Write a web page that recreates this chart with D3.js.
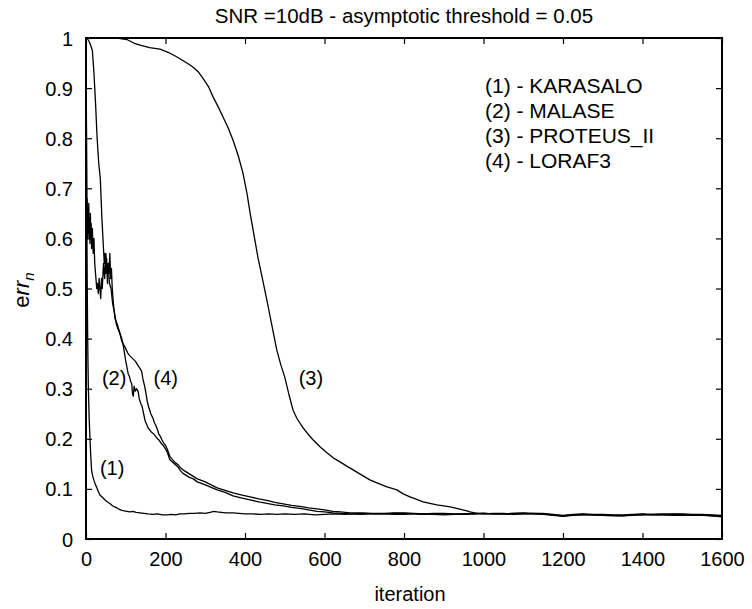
<!DOCTYPE html>
<html>
<head>
<meta charset="utf-8">
<script src="https://cdn.jsdelivr.net/npm/d3@7/dist/d3.min.js"></script>
<style>
  html, body { margin: 0; padding: 0; background: #fff; }
  svg { display: block; }
  text { font-family: "Liberation Sans", Arial, sans-serif; fill: #000; }
</style>
</head>
<body>
<svg id="chart" width="752" height="609"></svg>
<script>
// ---------- data ----------
const chartTitle = "SNR =10dB - asymptotic threshold = 0.05";
const xLabel = "iteration";
const xTicks = [0, 200, 400, 600, 800, 1000, 1200, 1400, 1600];
const yTicks = [0, 0.1, 0.2, 0.3, 0.4, 0.5, 0.6, 0.7, 0.8, 0.9, 1];
const legendItems = ["(1) - KARASALO", "(2) - MALASE", "(3) - PROTEUS_II", "(4) - LORAF3"];

// (1) KARASALO  [iteration, err]
const karasalo = [[0,1],[1,0.85],[2,0.66],[3,0.52],[4,0.42],[5,0.35],[6,0.3],[8,0.24],[10,0.2],[12,0.165],[14,0.138],[17,0.125],[20,0.117],[24,0.108],[27,0.103],[31,0.095],[35,0.088],[39,0.085],[43,0.082],[48,0.078],[54,0.074],[60,0.071],[66,0.067],[72,0.064],[78,0.062],[84,0.059],[90,0.057],[96,0.056],[103,0.055],[110,0.054],[118,0.055],[126,0.053],[136,0.052],[146,0.051],[156,0.05],[169,0.049],[180,0.05],[192,0.048],[204,0.048],[215,0.049],[225,0.048],[236,0.05],[248,0.05],[260,0.051],[272,0.051],[287,0.052],[300,0.051],[312,0.053],[322,0.055],[330,0.054],[340,0.053],[352,0.052],[370,0.052],[385,0.051],[400,0.05],[420,0.05],[440,0.049],[460,0.05],[480,0.049],[500,0.05],[525,0.049],[550,0.05],[575,0.048],[600,0.049],[625,0.05],[650,0.049],[675,0.05],[700,0.051],[725,0.05],[750,0.05],[775,0.049],[800,0.049],[825,0.05],[850,0.05],[875,0.049],[900,0.048],[925,0.049],[950,0.05],[975,0.05],[1000,0.051],[1025,0.05],[1050,0.05],[1075,0.051],[1100,0.052],[1125,0.051],[1150,0.05],[1175,0.048],[1200,0.046],[1225,0.048],[1250,0.049],[1275,0.048],[1300,0.048],[1325,0.047],[1350,0.047],[1375,0.048],[1400,0.049],[1425,0.048],[1450,0.048],[1475,0.047],[1500,0.047],[1525,0.048],[1550,0.048],[1575,0.047],[1600,0.046]];

// (2) MALASE
const malase = [[0,1],[1,0.82],[2,0.64],[3,0.68],[4,0.6],[5,0.66],[6,0.61],[7,0.67],[8,0.6],[9,0.64],[10,0.59],[11,0.65],[12,0.6],[13,0.63],[14,0.58],[16,0.62],[18,0.57],[20,0.6],[22,0.55],[25,0.52],[27,0.5],[29,0.51],[31,0.49],[33,0.52],[35,0.5],[37,0.48],[39,0.52],[41,0.5],[44,0.55],[47,0.52],[50,0.57],[53,0.53],[56,0.55],[59,0.51],[63,0.5],[67,0.47],[72,0.45],[76,0.43],[80,0.42],[85,0.41],[90,0.395],[93,0.39],[97,0.37],[100,0.355],[103,0.343],[106,0.33],[109,0.325],[112,0.315],[115,0.31],[117,0.29],[119,0.285],[121,0.305],[124,0.295],[127,0.3],[131,0.295],[134,0.28],[138,0.27],[141,0.265],[145,0.25],[149,0.235],[152,0.23],[156,0.222],[160,0.218],[165,0.213],[170,0.21],[175,0.205],[180,0.2],[185,0.196],[190,0.19],[195,0.186],[200,0.18],[205,0.172],[211,0.158],[218,0.153],[225,0.148],[232,0.143],[238,0.136],[244,0.131],[252,0.127],[260,0.123],[270,0.12],[280,0.114],[287,0.112],[300,0.108],[315,0.103],[330,0.098],[350,0.093],[370,0.086],[390,0.082],[413,0.078],[435,0.074],[455,0.071],[475,0.068],[496,0.066],[517,0.063],[538,0.061],[560,0.058],[581,0.055],[600,0.054],[621,0.052],[640,0.051],[664,0.05],[690,0.049],[720,0.05],[750,0.05],[775,0.051],[800,0.051],[825,0.05],[850,0.049],[875,0.05],[900,0.05],[925,0.049],[950,0.049],[975,0.05],[1000,0.051],[1025,0.05],[1050,0.05],[1075,0.051],[1100,0.051],[1125,0.05],[1150,0.049],[1175,0.047],[1200,0.045],[1225,0.047],[1250,0.048],[1275,0.048],[1300,0.047],[1325,0.046],[1350,0.046],[1375,0.048],[1400,0.049],[1425,0.048],[1450,0.048],[1475,0.049],[1500,0.049],[1525,0.048],[1550,0.047],[1575,0.046],[1600,0.045]];

// (3) PROTEUS_II
const proteus = [[0,1],[40,1],[78,1],[103,0.997],[120,0.99],[136,0.986],[160,0.981],[186,0.978],[208,0.971],[229,0.962],[250,0.952],[269,0.942],[283,0.932],[294,0.92],[308,0.903],[320,0.882],[333,0.862],[345,0.842],[358,0.82],[370,0.796],[383,0.765],[395,0.73],[405,0.69],[413,0.65],[423,0.605],[433,0.56],[445,0.515],[455,0.477],[468,0.425],[480,0.377],[490,0.348],[500,0.323],[510,0.29],[521,0.257],[531,0.24],[546,0.222],[560,0.208],[571,0.198],[590,0.183],[606,0.172],[622,0.162],[639,0.154],[655,0.146],[672,0.138],[693,0.128],[714,0.118],[735,0.111],[757,0.104],[770,0.101],[782,0.098],[798,0.09],[815,0.084],[832,0.079],[848,0.074],[865,0.071],[883,0.068],[900,0.066],[916,0.064],[932,0.061],[948,0.058],[958,0.056],[966,0.054],[978,0.052],[991,0.051],[1000,0.051],[1025,0.05],[1050,0.05],[1075,0.049],[1100,0.05],[1125,0.05],[1150,0.05],[1175,0.048],[1200,0.046],[1225,0.048],[1250,0.049],[1275,0.048],[1300,0.047],[1325,0.047],[1350,0.046],[1375,0.047],[1400,0.048],[1425,0.049],[1450,0.05],[1475,0.049],[1500,0.048],[1525,0.047],[1550,0.048],[1575,0.046],[1600,0.044]];

// (4) LORAF3
const loraf = [[0,1],[4,0.998],[8,0.993],[12,0.985],[16,0.975],[20,0.93],[24,0.87],[28,0.8],[32,0.75],[36,0.72],[40,0.64],[44,0.58],[46,0.55],[48,0.57],[50,0.53],[52,0.56],[54,0.51],[56,0.55],[58,0.53],[60,0.57],[62,0.52],[64,0.54],[66,0.5],[69,0.47],[73,0.44],[78,0.43],[82,0.42],[86,0.41],[90,0.4],[93,0.39],[97,0.385],[101,0.378],[105,0.371],[110,0.366],[115,0.362],[120,0.358],[124,0.355],[128,0.35],[132,0.345],[136,0.34],[140,0.335],[143,0.32],[146,0.31],[148,0.303],[151,0.29],[154,0.275],[157,0.265],[160,0.258],[163,0.25],[166,0.245],[169,0.24],[172,0.232],[175,0.228],[179,0.22],[183,0.21],[187,0.205],[191,0.198],[195,0.192],[200,0.187],[205,0.178],[211,0.165],[218,0.158],[225,0.152],[232,0.148],[238,0.142],[244,0.138],[252,0.134],[260,0.13],[270,0.125],[280,0.12],[287,0.118],[300,0.114],[315,0.108],[330,0.102],[350,0.097],[370,0.092],[390,0.088],[413,0.084],[435,0.08],[455,0.077],[475,0.073],[496,0.07],[517,0.067],[538,0.065],[560,0.062],[581,0.06],[600,0.058],[621,0.055],[640,0.054],[664,0.052],[690,0.052],[720,0.051],[750,0.051],[775,0.052],[800,0.052],[825,0.051],[850,0.05],[875,0.051],[900,0.051],[925,0.05],[950,0.05],[975,0.051],[1000,0.05],[1025,0.051],[1050,0.051],[1075,0.05],[1100,0.05],[1125,0.051],[1150,0.051],[1175,0.049],[1200,0.047],[1225,0.049],[1250,0.05],[1275,0.049],[1300,0.049],[1325,0.048],[1350,0.048],[1375,0.049],[1400,0.05],[1425,0.049],[1450,0.049],[1475,0.05],[1500,0.05],[1525,0.049],[1550,0.049],[1575,0.048],[1600,0.047]];

const seriesList = [karasalo, malase, proteus, loraf];
const curveLabels = [
  {text: "(1)", it: 35, v: 0.127},
  {text: "(2)", it: 40, v: 0.307},
  {text: "(4)", it: 170, v: 0.307},
  {text: "(3)", it: 535, v: 0.307}
];

// ---------- layout ----------
const svg = d3.select("#chart");
const m = {left: 86, right: 722, top: 38, bottom: 539};
const x = d3.scaleLinear().domain([0, 1600]).range([m.left, m.right]);
const y = d3.scaleLinear().domain([0, 1]).range([m.bottom, m.top]);
const fs = 20;

// curves
const line = d3.line().x(d => x(d[0])).y(d => y(d[1]));
svg.append("g").selectAll("path").data(seriesList).join("path")
  .attr("d", line).attr("fill", "none").attr("stroke", "#000")
  .attr("stroke-width", 1.3).attr("stroke-linejoin", "round");

// axes (ticks inside, on all four sides)
const tickLen = 6;
const gx = svg.append("g").attr("transform", `translate(0,${m.bottom})`)
  .call(d3.axisBottom(x).tickValues(xTicks).tickSize(-tickLen).tickPadding(13).tickFormat(d3.format("d")));
const gxt = svg.append("g").attr("transform", `translate(0,${m.top})`)
  .call(d3.axisTop(x).tickValues(xTicks).tickSize(-tickLen).tickFormat(""));
const gy = svg.append("g").attr("transform", `translate(${m.left},0)`)
  .call(d3.axisLeft(y).tickValues(yTicks).tickSize(-tickLen).tickPadding(13).tickFormat(d => d === 0 || d === 1 ? String(d) : d.toFixed(1)));
const gyr = svg.append("g").attr("transform", `translate(${m.right},0)`)
  .call(d3.axisRight(y).tickValues(yTicks).tickSize(-tickLen).tickFormat(""));
[gx, gxt, gy, gyr].forEach(g => {
  g.select(".domain").remove();
  g.selectAll(".tick line").attr("stroke", "#000").attr("stroke-width", 1.2);
  g.selectAll("text").attr("font-size", fs).attr("font-family", "Liberation Sans, Arial, sans-serif").attr("fill", "#000");
});
gx.selectAll(".tick text").attr("dy", "0.71em");
gy.selectAll(".tick text").attr("dy", "0.35em");

// box
svg.append("rect").attr("x", m.left).attr("y", m.top)
  .attr("width", m.right - m.left).attr("height", m.bottom - m.top)
  .attr("fill", "none").attr("stroke", "#000").attr("stroke-width", 2);

// title
svg.append("text").attr("x", 404).attr("y", 23).attr("text-anchor", "middle")
  .attr("font-size", 20.5).text(chartTitle);

// x label
svg.append("text").attr("x", 410).attr("y", 601).attr("text-anchor", "middle")
  .attr("font-size", fs).text(xLabel);

// y label: err_n
const yl = svg.append("text").attr("transform", "translate(29,290) rotate(-90)")
  .attr("text-anchor", "middle").attr("font-size", 22);
yl.append("tspan").text("e");
yl.append("tspan").attr("font-style", "italic").text("rr");
yl.append("tspan").attr("font-style", "italic").attr("font-size", 15).attr("dy", 5).text("n");

// legend
svg.append("g").selectAll("text").data(legendItems).join("text")
  .attr("x", 485).attr("y", (d, i) => 93 + i * 25)
  .attr("font-size", 21).text(d => d);

// curve labels
svg.append("g").selectAll("text").data(curveLabels).join("text")
  .attr("x", d => x(d.it)).attr("y", d => y(d.v))
  .attr("font-size", fs).text(d => d.text);
</script>
</body>
</html>
